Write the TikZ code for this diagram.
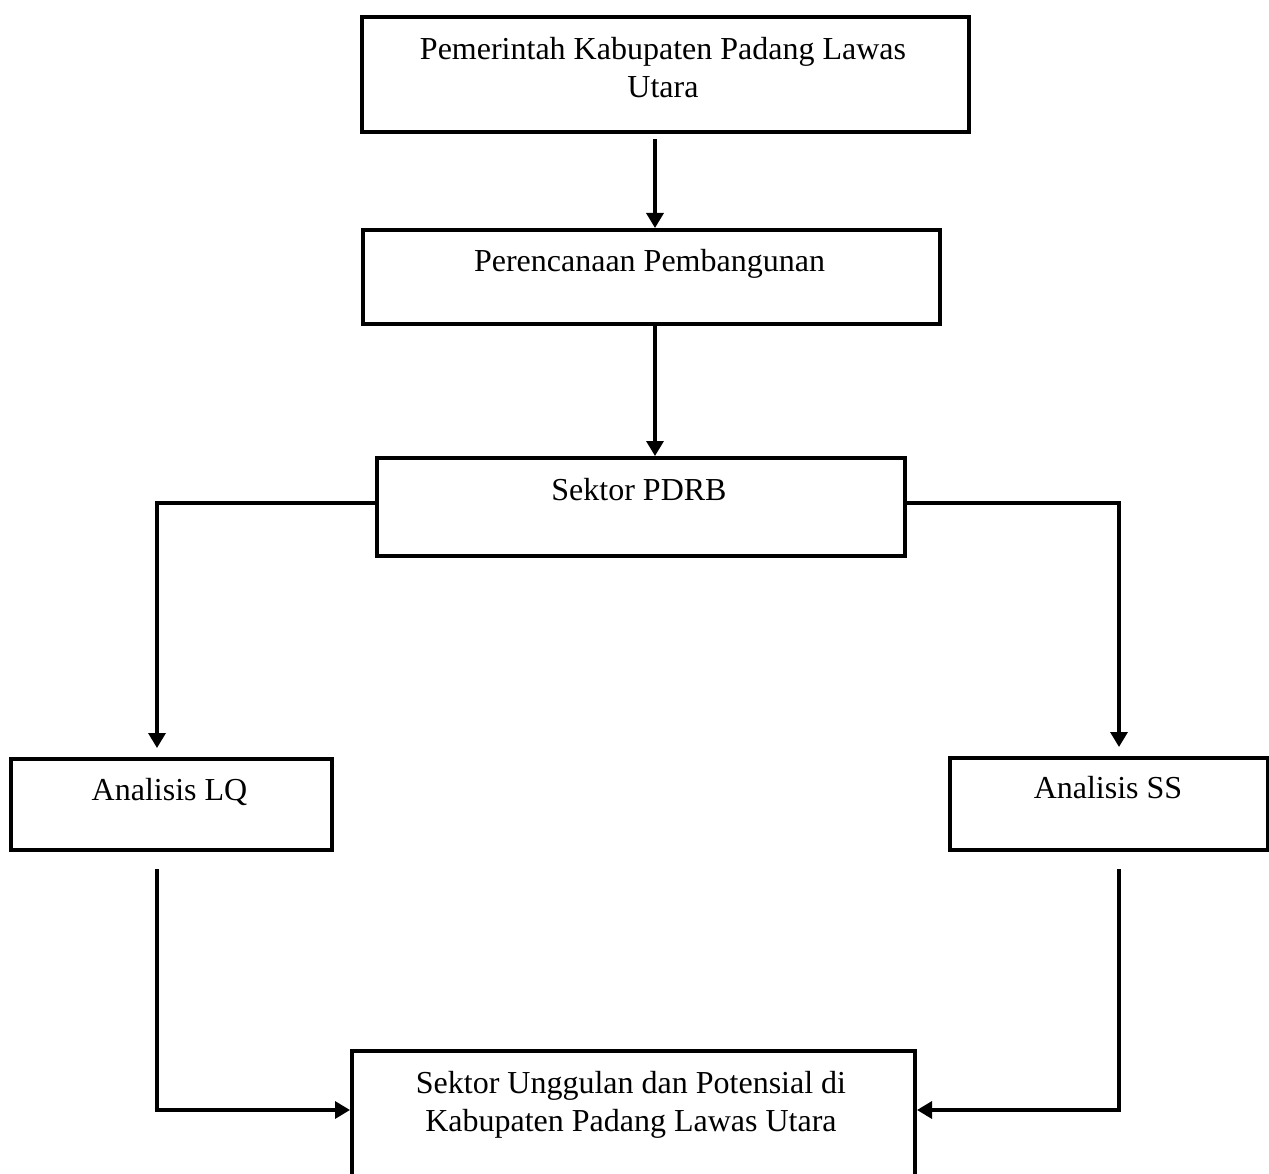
\documentclass[tikz,border=0pt]{standalone}
\usepackage{fontspec}
\setmainfont{Liberation Serif}
\usetikzlibrary{arrows.meta}
\begin{document}
\begin{tikzpicture}[x=1pt,y=-1pt,
  box/.style={draw=black,line width=4pt,rectangle,inner sep=0pt,anchor=north west},
  txt/.style={inner sep=0pt,align=center,font=\fontsize{32pt}{38.5pt}\selectfont},
  arr/.style={draw=black,line width=3.3pt,-{Triangle[width=17pt,length=15pt]}}]
\useasboundingbox (0,0) rectangle (1269,1174);
\clip (0,0) rectangle (1269,1174);
\fill[white] (0,0) rectangle (1269,1174);
% boxes
\node[box,minimum width=607pt,minimum height=115pt] (b1) at (360,15) {};
\node[box,minimum width=577pt,minimum height=94pt] (b2) at (361,228) {};
\node[box,minimum width=528pt,minimum height=98pt] (b3) at (375,456) {};
\node[box,minimum width=321pt,minimum height=91pt] (lq) at (9,757) {};
\node[box,minimum width=318pt,minimum height=92pt] (ss) at (948,756) {};
\node[box,minimum width=563pt,minimum height=200pt] (fin) at (350,1049) {};
% texts
\node[txt] (t1) at (663,67.5) {Pemerintah Kabupaten Padang Lawas\\Utara};
\node[txt,anchor=base] (t2) at (649.5,272) {Perencanaan Pembangunan};
\node[txt,anchor=base] (t3) at (639,500) {Sektor PDRB};
\node[txt,anchor=base] (t4) at (169.5,800) {Analisis LQ};
\node[txt,anchor=base] (t5) at (1108,798) {Analisis SS};
\node[txt] (t6) at (631,1105) {Sektor Unggulan dan Potensial di\\Kabupaten Padang Lawas Utara};
% helper coordinates
\coordinate (cx) at (655,0);
\coordinate (lx) at (157,0);
\coordinate (rx) at (1119,0);
\coordinate (ly) at (0,503);
\coordinate (ay) at (0,1110);
% connectors
\draw[arr,shorten <=5pt] (b1.south -| cx) -- (b2.north -| cx);
\draw[arr] (b2.south -| cx) -- (b3.north -| cx);
\draw[arr,shorten >=9pt] (b3.west |- ly) -| (lq.north -| lx);
\draw[arr,shorten >=9pt] (b3.east |- ly) -| (ss.north -| rx);
\draw[arr,shorten <=17pt] (lq.south -| lx) |- (fin.west |- ay);
\draw[arr,shorten <=17pt] (ss.south -| rx) |- (fin.east |- ay);
\end{tikzpicture}
\end{document}
